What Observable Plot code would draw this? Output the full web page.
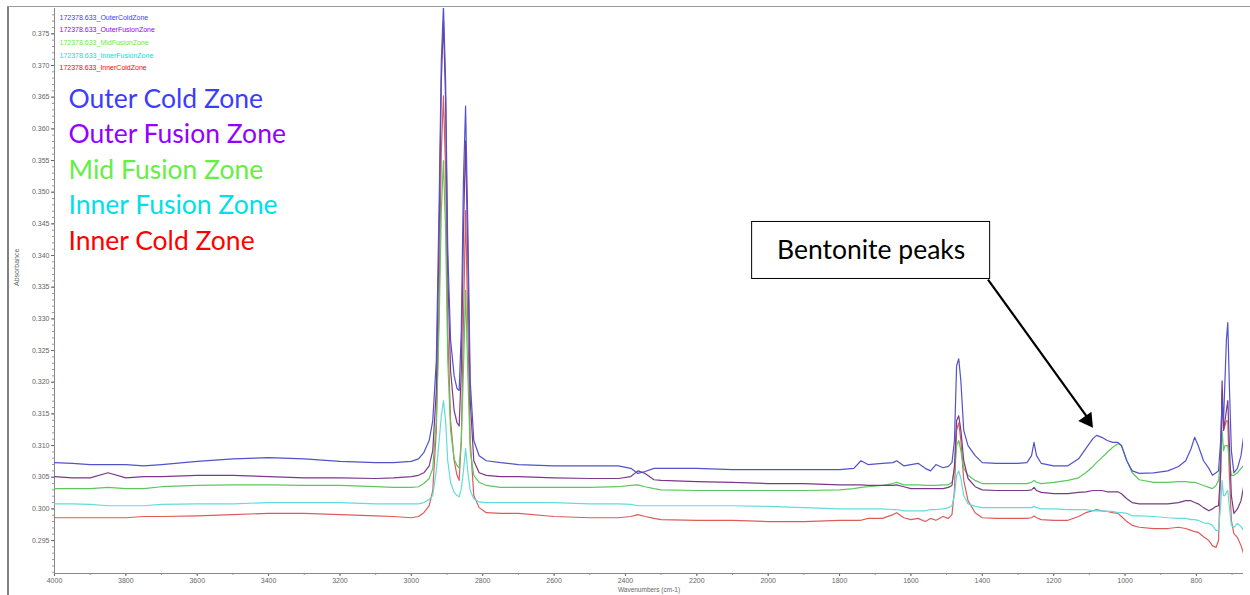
<!DOCTYPE html>
<html><head><meta charset="utf-8">
<script src="https://cdn.jsdelivr.net/npm/d3@7"></script>
<script src="https://cdn.jsdelivr.net/npm/@observablehq/plot@0.6"></script>
<style>
body{margin:0;background:#fff;}
#chart{position:relative;width:1250px;height:595px;overflow:hidden;}
#chart svg{position:absolute;left:0;top:0;}
.bl{position:absolute;left:7px;top:6px;width:2px;height:589px;background:#808080;}
.bt{position:absolute;left:7px;top:6px;width:1243px;height:1px;background:#9a9a9a;}
</style>
</head><body><div id="chart"><div class="bl"></div><div class="bt"></div></div>
<script>
const wavenumbers = [4000,3950,3900,3850,3800,3750,3700,3600,3500,3400,3300,3200,3100,3050,3000,
2980,2965,2950,2940,2930,2922,2916,2910,2904,2898,2890,2880,2872,2866,2860,2854,2848,2842,2835,2825,2810,2790,2750,2700,
2600,2500,2420,2385,2365,2345,2320,2300,2200,2100,2000,1900,1800,
1760,1740,1720,1680,1650,1640,1620,1600,1580,1560,1545,1530,1510,1495,1485,
1478,1472,1466,1460,1452,1440,1420,1400,1360,
1300,1275,1262,1255,1248,1235,1200,
1160,1130,1110,1090,1080,1065,1050,1035,1020,1010,995,980,960,
920,880,850,830,815,805,795,780,765,755,745,738,732,728,724,720,716,712,708,702,695,685,675,668];

const outerCold = [.3073,.3072,.3070,.3070,.3070,.3068,.3070,.3075,.3079,.3081,.3079,.3075,.3073,.3073,.3075,
.3079,.3089,.3108,.3139,.3234,.3487,.3707,.3794,.3676,.3408,.3266,.3210,.3190,.3187,.3281,.3518,.3636,.3455,.3202,.3108,.3084,.3076,.3073,.3070,
.3068,.3068,.3068,.3064,.3056,.3059,.3064,.3064,.3064,.3062,.3062,.3062,.3062,
.3064,.3076,.3070,.3072,.3073,.3076,.3068,.3070,.3072,.3064,.3060,.3070,.3065,.3067,.3073,
.3108,.3226,.3237,.3202,.3124,.3100,.3084,.3073,.3072,
.3072,.3073,.3084,.3105,.3084,.3072,.3068,
.3068,.3079,.3095,.3111,.3116,.3113,.3108,.3105,.3105,.3100,.3076,.3060,.3056,
.3057,.3060,.3067,.3076,.3095,.3113,.3100,.3076,.3064,.3053,.3057,.3060,.3108,.3171,.3139,.3202,.3266,.3294,.3202,.3092,.3057,.3064,.3084,.3113];

const outerFusion = [.3051,.3049,.3049,.3057,.3049,.3051,.3051,.3053,.3053,.3051,.3049,.3049,.3048,.3049,.3051,
.3053,.3057,.3068,.3092,.3187,.3439,.3676,.3771,.3644,.3376,.3218,.3155,.3136,.3131,.3218,.3439,.3581,.3408,.3171,.3076,.3057,.3053,.3051,.3051,
.3049,.3048,.3048,.3051,.3060,.3056,.3046,.3045,.3043,.3042,.3040,.3040,.3038,
.3038,.3038,.3037,.3037,.3037,.3038,.3035,.3032,.3032,.3032,.3032,.3032,.3032,.3034,.3037,
.3068,.3139,.3147,.3124,.3076,.3048,.3035,.3030,.3029,
.3029,.3029,.3030,.3034,.3029,.3026,.3024,
.3024,.3026,.3027,.3029,.3029,.3029,.3027,.3027,.3027,.3024,.3016,.3010,.3008,
.3008,.3008,.3010,.3013,.3013,.3010,.3008,.3002,.2997,.3000,.3004,.3005,.3060,.3202,.3124,.3139,.3155,.3171,.3108,.3021,.2993,.3000,.3013,.3034];

const midFusion = [.3032,.3032,.3032,.3034,.3032,.3032,.3035,.3037,.3038,.3038,.3037,.3037,.3035,.3034,.3034,
.3035,.3040,.3048,.3064,.3139,.3297,.3471,.3550,.3439,.3234,.3124,.3079,.3068,.3065,.3108,.3218,.3345,.3218,.3092,.3053,.3042,.3037,.3034,.3034,
.3034,.3034,.3035,.3037,.3038,.3035,.3032,.3030,.3029,.3029,.3029,.3029,.3030,
.3032,.3034,.3035,.3037,.3040,.3042,.3038,.3038,.3038,.3037,.3037,.3037,.3038,.3038,.3042,
.3060,.3100,.3108,.3092,.3064,.3053,.3045,.3040,.3040,
.3040,.3040,.3042,.3045,.3042,.3040,.3042,
.3045,.3049,.3057,.3067,.3073,.3081,.3089,.3097,.3103,.3100,.3076,.3057,.3046,
.3042,.3042,.3043,.3043,.3042,.3042,.3040,.3037,.3034,.3032,.3037,.3045,.3076,.3124,.3092,.3100,.3100,.3100,.3076,.3053,.3053,.3057,.3064,.3068];

const innerFusion = [.3008,.3008,.3007,.3005,.3005,.3005,.3007,.3008,.3008,.3010,.3010,.3010,.3008,.3008,.3008,
.3008,.3010,.3015,.3021,.3060,.3108,.3147,.3171,.3139,.3076,.3042,.3026,.3021,.3019,.3032,.3060,.3095,.3060,.3029,.3016,.3011,.3010,.3010,.3010,
.3010,.3008,.3008,.3007,.3005,.3005,.3005,.3005,.3005,.3005,.3004,.3002,.3000,
.3000,.3000,.3000,.3000,.2999,.2999,.2997,.2997,.2997,.2997,.2999,.2999,.3000,.3002,.3005,
.3021,.3053,.3060,.3048,.3021,.3008,.3004,.3002,.3002,
.3002,.3002,.3002,.3004,.3002,.3000,.3000,
.2999,.2999,.2999,.2997,.2997,.2997,.2996,.2996,.2994,.2994,.2993,.2989,.2989,
.2988,.2986,.2985,.2985,.2983,.2983,.2982,.2978,.2977,.2974,.2966,.2966,.3005,.3045,.3021,.3021,.3026,.3029,.3005,.2974,.2971,.2977,.2972,.2966];

const innerCold = [.2986,.2986,.2986,.2986,.2986,.2988,.2988,.2989,.2991,.2993,.2993,.2991,.2989,.2988,.2986,
.2988,.2994,.3005,.3029,.3124,.3329,.3565,.3652,.3534,.3281,.3139,.3076,.3053,.3045,.3108,.3297,.3471,.3297,.3108,.3021,.3002,.2994,.2993,.2993,
.2988,.2986,.2986,.2988,.2991,.2988,.2985,.2983,.2982,.2982,.2980,.2980,.2982,
.2982,.2982,.2985,.2985,.2991,.2994,.2986,.2983,.2985,.2980,.2985,.2982,.2988,.2985,.2991,
.3029,.3124,.3136,.3108,.3045,.3013,.2994,.2986,.2985,
.2985,.2985,.2986,.2989,.2986,.2983,.2982,
.2982,.2988,.2994,.2997,.2999,.2997,.2996,.2994,.2993,.2988,.2980,.2974,.2971,
.2969,.2969,.2971,.2969,.2966,.2964,.2963,.2956,.2950,.2942,.2939,.2950,.3060,.3187,.3124,.3131,.3139,.3139,.3060,.2982,.2961,.2955,.2942,.2930];

const seriesNames = ["Outer Cold Zone","Outer Fusion Zone","Mid Fusion Zone","Inner Fusion Zone","Inner Cold Zone"];
const fileNames = ["172378.633_OuterColdZone","172378.633_OuterFusionZone","172378.633_MidFusionZone","172378.633_InnerFusionZone","172378.633_InnerColdZone"];
const lineColors = ["#5252cc","#7a3a88","#5cc85c","#62dcdc","#dc5c5c"];
const textColors = ["#3c3cff","#9400ff","#66ee44","#00e0e6","#ff0000"];
const yTicks = [0.295,0.300,0.305,0.310,0.315,0.320,0.325,0.330,0.335,0.340,0.345,0.350,0.355,0.360,0.365,0.370,0.375];
const xTicks = [4000,3800,3600,3400,3200,3000,2800,2600,2400,2200,2000,1800,1600,1400,1200,1000,800];
const annotationText = ["Bentonite peaks"];
const annotationBox = [{x1: 2045, x2: 1378, y1: 0.3453, y2: 0.3363}];
const annotationArrow = [{x1: 1384, y1: 0.3362, x2: 1096, y2: 0.3137}];
const arrowHead = [{x: 1105, y: 0.3140}];

const allSeries = [outerCold, outerFusion, midFusion, innerFusion, innerCold];
const rows = [];
allSeries.forEach((vals, s) => vals.forEach((v, i) => rows.push({w: wavenumbers[i], a: v, s})));

const minorY = d3.range(0.290, 0.3785, 0.001);
const minorX = d3.range(700, 4001, 100);
const font = "Lato, 'Open Sans', sans-serif";

const drawOrder = [4, 3, 2, 1, 0];
const lineMarks = drawOrder.map(s => Plot.line(rows.filter(r => r.s === s), {
  x: "w", y: "a", stroke: lineColors[s], strokeWidth: 1.2, clip: true
}));

const smallLegend = fileNames.map((t, i) => Plot.text([t], {
  frameAnchor: "top-left", dx: 5, dy: 9 + i * 12.6, text: d => d, fill: textColors[i],
  fontSize: 7, textAnchor: "start", lineAnchor: "middle", fontFamily: "Liberation Sans, Arial, sans-serif"
}));
const bigLegend = seriesNames.map((t, i) => Plot.text([t], {
  frameAnchor: "top-left", dx: 14, dy: 91 + i * 35.5, text: d => d, fill: textColors[i],
  fontSize: 26.5, textAnchor: "start", lineAnchor: "middle", fontFamily: font
}));

const chart = Plot.plot({
  width: 1250, height: 595,
  marginLeft: 54, marginRight: 7, marginTop: 8, marginBottom: 22,
  style: {background: "transparent", fontFamily: "Liberation Sans, Arial, sans-serif"},
  x: {domain: [4000, 668]},
  y: {domain: [0.2898, 0.3790]},
  marks: [
    Plot.axisY(minorY, {tickSize: 2, tickFormat: () => "", stroke: "#999"}),
    Plot.axisX(minorX, {tickSize: 2, tickFormat: () => "", stroke: "#999"}),
    Plot.axisY(yTicks, {tickSize: 3, tickPadding: 2, tickFormat: d3.format(".3f"), fontSize: 7, color: "#666", label: null}),
    Plot.axisX(xTicks, {tickSize: 3, tickPadding: 2, tickFormat: d3.format("d"), fontSize: 7, color: "#666", label: null}),
    Plot.ruleX([4000], {stroke: "#8a8a8a"}),
    Plot.ruleY([0.2898], {stroke: "#8a8a8a"}),
    Plot.text(["Absorbance"], {frameAnchor: "left", dx: -38, dy: -5, rotate: -90, text: d => d, fontSize: 7, fill: "#666"}),
    Plot.text(["Wavenumbers (cm-1)"], {frameAnchor: "bottom", dy: 18, text: d => d, fontSize: 6.5, fill: "#666"}),
    ...lineMarks,
    ...smallLegend,
    ...bigLegend,
    Plot.rect(annotationBox, {x1: "x1", x2: "x2", y1: "y1", y2: "y2", fill: "white", stroke: "black", strokeWidth: 1}),
    Plot.text(annotationText, {x: (annotationBox[0].x1 + annotationBox[0].x2) / 2, y: (annotationBox[0].y1 + annotationBox[0].y2) / 2, text: d => d, fontSize: 26.5, fill: "black", fontFamily: font}),
    Plot.link(annotationArrow, {x1: "x1", y1: "y1", x2: "x2", y2: "y2", stroke: "black", strokeWidth: 2.2}),
    Plot.dot(arrowHead, {x: "x", y: "y", symbol: "triangle", r: 6, fill: "black", stroke: "none", rotate: 144.6})
  ]
});
document.getElementById("chart").appendChild(chart);
</script>
</body></html>
